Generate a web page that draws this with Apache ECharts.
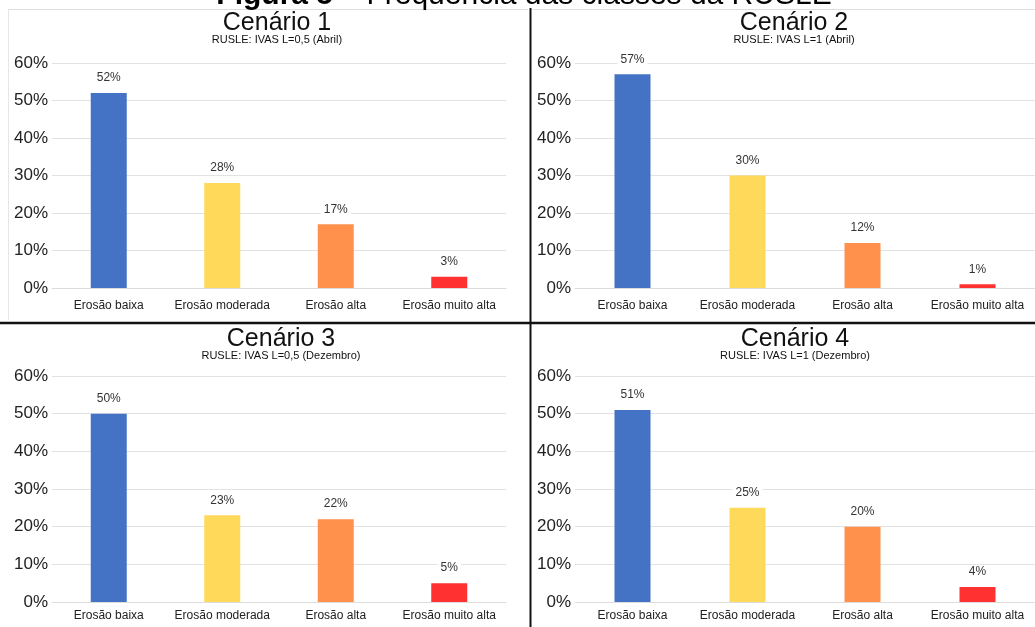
<!DOCTYPE html>
<html>
<head>
<meta charset="utf-8">
<script src="https://cdn.jsdelivr.net/npm/echarts@6/dist/echarts.min.js"></script>
<style>
html, body { margin: 0; padding: 0; background: #fff; }
#chart { width: 1035px; height: 627px; }
</style>
</head>
<body>
<div id="chart"></div>
<script>
var categorias = ['Erosão baixa', 'Erosão moderada', 'Erosão alta', 'Erosão muito alta'];
var cenario1 = [52, 28, 17, 3];
var cenario2 = [57, 30, 12, 1];
var cenario3 = [50, 23, 22, 5];
var cenario4 = [51, 25, 20, 4];
var titulos = ['Cenário 1', 'Cenário 2', 'Cenário 3', 'Cenário 4'];
var subtitulos = ['RUSLE: IVAS L=0,5 (Abril)', 'RUSLE: IVAS L=1 (Abril)', 'RUSLE: IVAS L=0,5 (Dezembro)', 'RUSLE: IVAS L=1 (Dezembro)'];
var cores = ['#4472C4', '#FFD95A', '#FF914D', '#FF3131'];

var valores = [cenario1, cenario2, cenario3, cenario4];
var fonte = '"Liberation Sans", Arial, sans-serif';

// posição de cada painel na figura
var paineis = [
    {left: 52, top: 63, width: 454, height: 225, tx: 273, ty: 11, margem: 12},
    {left: 575, top: 63, width: 461, height: 225, tx: 790, ty: 11, margem: 12},
    {left: 52, top: 376, width: 454, height: 226, tx: 277, ty: 327, margem: 8},
    {left: 575, top: 376, width: 461, height: 226, tx: 791, ty: 327, margem: 8}
];

var chart = echarts.init(document.getElementById('chart'), null, {renderer: 'canvas'});

var title = [], grid = [], xAxis = [], yAxis = [], series = [];

paineis.forEach(function (p, i) {
    title.push({
        text: titulos[i],
        subtext: subtitulos[i],
        left: p.tx,
        top: p.ty,
        textAlign: 'center',
        padding: [0, 4],
        itemGap: -2,
        backgroundColor: '#fff',
        textStyle: {fontFamily: fonte, fontSize: 25, fontWeight: 'normal', color: '#111'},
        subtextStyle: {fontFamily: fonte, fontSize: 11, color: '#111'}
    });
    grid.push({left: p.left, top: p.top, width: p.width, height: p.height});
    xAxis.push({
        type: 'category',
        gridIndex: i,
        data: categorias,
        axisTick: {show: false},
        axisLine: {lineStyle: {color: '#dcdcdc'}},
        axisLabel: {fontFamily: fonte, fontSize: 12, color: '#222', margin: p.margem, interval: 0}
    });
    yAxis.push({
        type: 'value',
        gridIndex: i,
        min: 0,
        max: 60,
        interval: 10,
        axisLabel: {fontFamily: fonte, fontSize: 17, color: '#222', margin: 4, formatter: '{value}%'},
        splitLine: {lineStyle: {color: '#e2e2e2'}}
    });
    series.push({
        type: 'bar',
        xAxisIndex: i,
        yAxisIndex: i,
        barWidth: 36,
        data: valores[i].map(function (v, k) {
            return {value: v, itemStyle: {color: cores[k]}};
        }),
        label: {
            show: true,
            position: 'top',
            distance: 8,
            formatter: '{c}%',
            fontFamily: fonte,
            fontSize: 12,
            color: '#333',
            backgroundColor: '#fff',
            padding: [1, 3]
        }
    });
});

var option = {
    backgroundColor: '#fff',
    animation: false,
    title: title,
    grid: grid,
    xAxis: xAxis,
    yAxis: yAxis,
    series: series,
    graphic: [
        // bordas claras dos painéis de cima
        {type: 'line', z: -1, shape: {x1: 8, y1: 9.5, x2: 528, y2: 9.5}, style: {stroke: '#dddddd', lineWidth: 1}},
        {type: 'line', z: -1, shape: {x1: 533, y1: 9.5, x2: 1035, y2: 9.5}, style: {stroke: '#dddddd', lineWidth: 1}},
        {type: 'line', z: -1, shape: {x1: 8.5, y1: 9, x2: 8.5, y2: 320}, style: {stroke: '#e6e6e6', lineWidth: 1}},
        // divisórias pretas
        {type: 'line', shape: {x1: 530.5, y1: 8, x2: 530.5, y2: 627}, style: {stroke: '#111', lineWidth: 2}},
        {type: 'line', shape: {x1: 0, y1: 323, x2: 1035, y2: 323}, style: {stroke: '#111', lineWidth: 2.5}},
        {
            type: 'text',
            z: 10,
            style: {
                x: 524,
                y: -4,
                text: '{b|Figura 5} – Frequência das classes da RUSLE',
                rich: {b: {fontWeight: 'bold', fontSize: 30, fontFamily: fonte}},
                font: '30px "Liberation Sans", Arial, sans-serif',
                fill: '#000',
                textAlign: 'center',
                textVerticalAlign: 'middle'
            }
        }
    ]
};

chart.setOption(option);
</script>
</body>
</html>
